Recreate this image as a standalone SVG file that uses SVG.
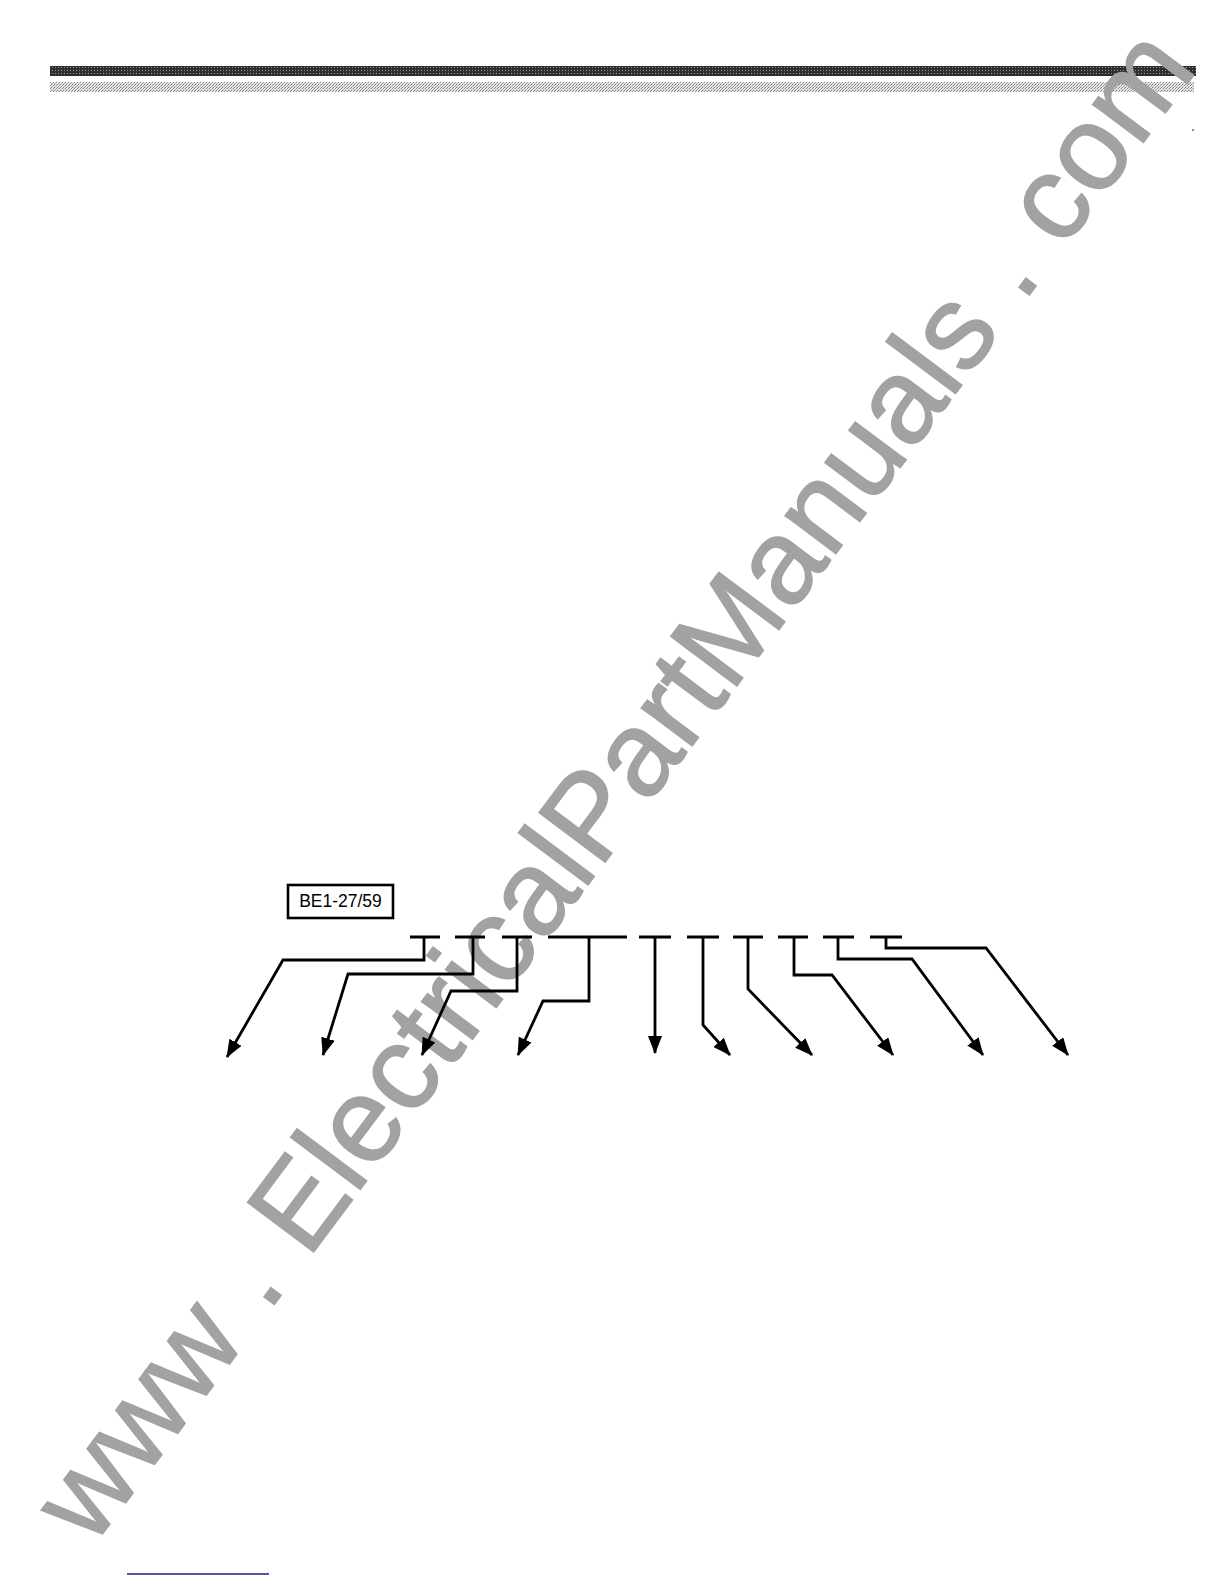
<svg xmlns="http://www.w3.org/2000/svg" width="1224" height="1584" viewBox="0 0 1224 1584">
  <style>
    .ln { fill: none; stroke: #000; stroke-width: 2.8; stroke-linejoin: miter; }
    .box { fill: #fff; stroke: #000; stroke-width: 2.6; }
    .lbl { font-family: "Liberation Sans", Arial, sans-serif; font-size: 17.5px; fill: #000; }
    .wm { font-family: "Liberation Sans", Arial, sans-serif; font-size: 120px; fill: #a2a2a2; stroke: #a2a2a2; stroke-width: 1.5; }
  </style>
  <defs>
    <marker id="arrow" markerUnits="userSpaceOnUse" markerWidth="20" markerHeight="16" refX="17" refY="7" orient="auto">
      <path d="M0,0 L18,7 L0,14 z" fill="#000"/>
    </marker>
    <pattern id="htDark" patternUnits="userSpaceOnUse" width="3" height="3">
      <rect width="3" height="3" fill="#2e2e2e"/>
      <rect x="1" y="1" width="1" height="1" fill="#9a9a9a"/>
    </pattern>
    <pattern id="htLight" patternUnits="userSpaceOnUse" width="3" height="3">
      <rect width="3" height="3" fill="#e6e6e6"/>
      <rect x="0" y="0" width="1" height="1" fill="#7a7a7a"/>
      <rect x="2" y="1" width="1" height="1" fill="#909090"/>
      <rect x="1" y="2" width="1" height="1" fill="#b0b0b0"/>
    </pattern>
  </defs>
  <rect width="1224" height="1584" fill="#fff"/>

  <g id="header">
    <rect x="50" y="66" width="1146" height="10" fill="url(#htDark)"/>
    <rect x="50" y="82" width="1144" height="10" fill="url(#htLight)"/>
    <circle cx="1193" cy="130" r="1" fill="#666"/>
  </g>

  <g id="watermark">
    <text class="wm" x="92" y="1548" transform="rotate(-53.2 92 1548)">www . ElectricalPartManuals . com</text>
  </g>

  <g id="relay-box">
    <rect class="box" x="288" y="885" width="105" height="33"/>
    <text class="lbl" x="340.5" y="907" text-anchor="middle">BE1-27/59</text>
  </g>

  <g id="bus">
    <path class="ln" d="M410,937 H440 M455,937 H485 M502,937 H532 M548,937 H627 M639,937 H671 M687,937 H719 M733,937 H763 M778,937 H808 M823,937 H854 M870,937 H902"/>
  </g>

  <g id="connectors">
    <path class="ln" marker-end="url(#arrow)" d="M424,937 V960 H283 L227,1057"/>
    <path class="ln" marker-end="url(#arrow)" d="M473,937 V974 H348 L323,1055"/>
    <path class="ln" marker-end="url(#arrow)" d="M517,937 V991 H451 L422,1055"/>
    <path class="ln" marker-end="url(#arrow)" d="M589,937 V1001 H543 L518,1055"/>
    <path class="ln" marker-end="url(#arrow)" d="M655,937 V1053"/>
    <path class="ln" marker-end="url(#arrow)" d="M703,937 V1025 L730,1055"/>
    <path class="ln" marker-end="url(#arrow)" d="M748,937 V989 L812,1055"/>
    <path class="ln" marker-end="url(#arrow)" d="M794,937 V975 H832 L893,1055"/>
    <path class="ln" marker-end="url(#arrow)" d="M838,937 V959 H912 L983,1055"/>
    <path class="ln" marker-end="url(#arrow)" d="M886,937 V948 H986 L1068,1055"/>
  </g>

  <g id="footer">
    <line x1="127" y1="1574" x2="269" y2="1574" stroke="#1c1c7a" stroke-width="1.5"/>
  </g>
</svg>
